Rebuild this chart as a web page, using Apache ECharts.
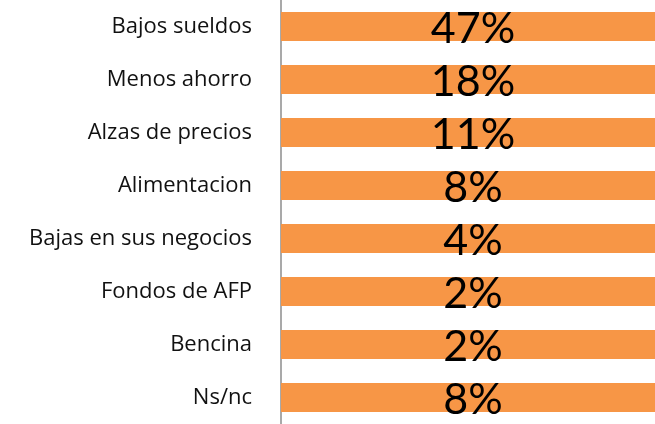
<!DOCTYPE html>
<html>
<head>
<meta charset="utf-8">
<script src="https://cdn.jsdelivr.net/npm/echarts@6/dist/echarts.min.js"></script>
<style>
html,body{margin:0;padding:0;background:#fff;}
#chart{width:655px;height:424px;}
</style>
</head>
<body>
<div id="chart"></div>
<script>
var categories = ['Bajos sueldos','Menos ahorro','Alzas de precios','Alimentacion','Bajas en sus negocios','Fondos de AFP','Bencina','Ns/nc'];
var values = [47, 18, 11, 8, 4, 2, 2, 8];

var chart = echarts.init(document.getElementById('chart'), null, {renderer:'canvas'});
chart.setOption({
  animation: false,
  grid: {left: 281, right: 0, top: -5, height: 437, containLabel: false},
  xAxis: {
    type: 'value', min: 0, max: 2, show: false
  },
  yAxis: {
    type: 'category', data: categories, inverse: true, offset: 2,
    axisLine: {show: true, lineStyle: {color: '#8c8c8c', width: 1.5}},
    axisTick: {show: false},
    axisLabel: {margin: 27, color: '#111', fontFamily: 'Open Sans', fontSize: 22}
  },
  series: [{
    type: 'bar', data: values, barWidth: 29, clip: true,
    itemStyle: {color: '#F79646'},
    label: {show: true, position: 'inside', formatter: '{c}%', color: '#000', fontFamily: 'Lato', fontSize: 43, offset: [5, 3]}
  }]
});
</script>
</body>
</html>
